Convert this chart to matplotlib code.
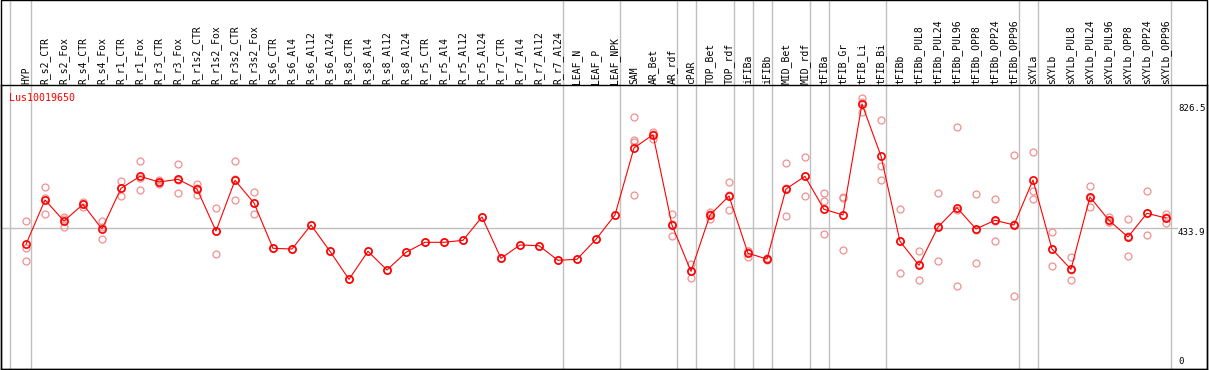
"""Expression profile of Lus10019650 across tissues / treatments."""

import matplotlib

matplotlib.use("Agg")
import matplotlib.pyplot as plt
from matplotlib.patches import Rectangle
from matplotlib.transforms import blended_transform_factory

GENE = "Lus10019650"

samples = [
    "HYP", "R_s2_CTR", "R_s2_Fox", "R_s4_CTR", "R_s4_Fox", "R_r1_CTR", "R_r1_Fox",
    "R_r3_CTR", "R_r3_Fox", "R_r1s2_CTR", "R_r1s2_Fox", "R_r3s2_CTR", "R_r3s2_Fox",
    "R_s6_CTR", "R_s6_Al4", "R_s6_Al12", "R_s6_Al24", "R_s8_CTR", "R_s8_Al4",
    "R_s8_Al12", "R_s8_Al24", "R_r5_CTR", "R_r5_Al4", "R_r5_Al12", "R_r5_Al24",
    "R_r7_CTR", "R_r7_Al4", "R_r7_Al12", "R_r7_Al24", "LEAF_N", "LEAF_P", "LEAF_NPK",
    "SAM", "AR_Bet", "AR_rdf", "cPAR", "TOP_Bet", "TOP_rdf", "iFIBa", "iFIBb",
    "MID_Bet", "MID_rdf", "tFIBa", "tFIB_Gr", "tFIB_Li", "tFIB_Bi", "tFIBb",
    "tFIBb_PUL8", "tFIBb_PUL24", "tFIBb_PUL96", "tFIBb_OPP8", "tFIBb_OPP24",
    "tFIBb_OPP96", "sXYLa", "sXYLb", "sXYLb_PUL8", "sXYLb_PUL24", "sXYLb_PUL96",
    "sXYLb_OPP8", "sXYLb_OPP24", "sXYLb_OPP96",
]

means = [
    383.4, 523.3, 457.0, 509.6, 431.7, 560.0, 598.0, 580.0, 588.6, 558.0, 425.4,
    585.5, 513.8, 370.7, 368.5, 444.3, 361.3, 272.8, 361.3, 302.2, 358.0, 389.7,
    389.7, 396.0, 469.6, 339.2, 381.2, 379.0, 332.9, 336.0, 399.2, 475.9, 687.5,
    729.5, 444.3, 298.0, 475.9, 535.9, 355.0, 336.9, 558.0, 598.0, 494.0, 476.0,
    826.5, 662.2, 392.8, 317.0, 438.0, 499.0, 431.7, 459.2, 444.3, 586.4, 368.5,
    304.4, 532.8, 459.2, 406.4, 481.3, 466.4,
]

replicates = [
    [457.0, 372.7, 330.6], [563.3, 478.0, 528.6], [464.0, 439.0, 468.0],
    [500.0, 512.0, 517.0], [457.0, 401.0, 437.0], [583.0, 537.0, 560.0],
    [646.4, 554.0, 594.0], [586.5, 575.0, 578.0], [636.0, 544.4, 586.0],
    [573.8, 539.0, 561.0], [497.0, 352.7, 426.0], [646.4, 522.3, 588.0],
    [548.5, 478.0, 515.0], [370.7], [368.5], [444.3], [361.3], [272.8], [361.3],
    [302.2], [358.0], [389.7], [389.7], [396.0], [469.6], [339.2], [381.2],
    [379.0], [332.9], [336.0], [399.2], [475.9],
    [785.4, 713.0, 706.0, 538.0], [739.0, 716.9, 732.0], [478.0, 408.6, 446.0],
    [320.0, 276.0, 298.0], [486.0, 462.0, 480.0], [579.0, 490.8, 538.0],
    [362.0, 342.3, 361.0], [340.0, 334.0, 337.0], [639.0, 472.7, 562.0],
    [658.0, 536.0, 600.0], [544.4, 519.2, 416.0], [531.8, 530.0, 365.4],
    [844.5, 832.0, 802.0], [776.0, 630.6, 585.5], [494.0, 291.8, 392.6],
    [361.3, 269.7, 320.0], [544.4, 329.7, 440.0], [752.9, 251.7, 492.4],
    [541.3, 324.3, 429.5], [526.4, 392.8, 458.0], [664.4, 220.1, 448.0],
    [673.9, 551.7, 526.4], [423.2, 314.9, 367.0], [342.3, 269.7, 301.0],
    [566.5, 501.2, 531.0], [470.5, 453.8, 453.0], [462.3, 345.5, 411.0],
    [550.8, 411.8, 481.0], [478.0, 450.6, 470.0],
]

# last sample index of each tissue group (grey separators drawn just after)
group_ends = [0, 28, 31, 34, 35, 37, 38, 39, 41, 42, 45, 52, 53, 60]
y_marks = [826.5, 433.9, 0]

RED = "#ff0000"
PINK = "#f09090"
GREY = "#c0c0c0"
MONO = "DejaVu Sans Mono"

W, H = 1209, 370
fig = plt.figure(figsize=(W / 100, H / 100), dpi=100)
fig.patch.set_facecolor("white")

# plot area: x 1..1207 px, y 85..369 px
ax = fig.add_axes([1 / W, (H - 369) / H, 1206 / W, 284 / H])
ax.set_xlim(-1.316, 62.16)
ax.set_ylim(-10.4, 886.4)
ax.set_xticks([])
ax.set_yticks([])
for sp in ax.spines.values():
    sp.set_color("black")
    sp.set_linewidth(1.0)

# outer frame (covers the label band too)
fig.patches.append(Rectangle((1 / W, (H - 369) / H), 1206 / W, 369 / H,
                             transform=fig.transFigure, fill=False,
                             edgecolor="black", linewidth=1.0, zorder=0))

# separators
sep_x = [-0.83] + [e + 0.25 for e in group_ends]
for sx in sep_x:
    ax.axvline(sx, ymin=0, ymax=1.3, color=GREY, linewidth=1.0, clip_on=False, zorder=1)
ax.axhline(y_marks[1], xmax=0.975, color=GREY, linewidth=1.0, zorder=1)

xs = list(range(len(samples)))

# replicates
for x, reps in zip(xs, replicates):
    ax.plot([x] * len(reps), reps, linestyle="none", marker="o", markersize=5,
            markerfacecolor="none", markeredgecolor=PINK, markeredgewidth=0.9, zorder=2)

# means
ax.plot(xs, means, color=RED, linewidth=0.8, marker="o", markersize=5.2,
        markerfacecolor="none", markeredgecolor=RED, markeredgewidth=1.2, zorder=3)

# sample labels in the top band
lab_tr = blended_transform_factory(ax.transData, fig.transFigure)
for x, name in zip(xs, samples):
    fig.text(x, (H - 83.5) / H, name, transform=lab_tr, rotation=90,
             ha="center", va="bottom", fontsize=7, family=MONO, color="black")

# gene title
ax.text(0.0069, 0.955, GENE, transform=ax.transAxes, ha="left", va="center",
        fontsize=7.2, family=MONO, color=RED)

# value labels at right
val_tr = blended_transform_factory(ax.transAxes, ax.transData)
for v in y_marks:
    ax.text(0.976, v, f"{v:g}", transform=val_tr, ha="left",
            va="bottom" if v == 0 else "top", fontsize=6.6, family=MONO, color="black")

fig.savefig("out.png", dpi=100)
